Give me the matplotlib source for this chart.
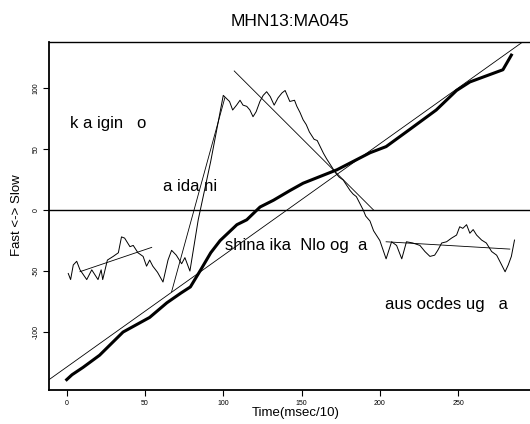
import matplotlib
matplotlib.use("Agg")
import matplotlib.pyplot as plt

plt.rcParams['font.family'] = ['Liberation Sans', 'DejaVu Sans']

# serie oscilante (tiempo, valor)
wig_t = [1, 2.5, 4.2, 6.4, 8.5, 12.8, 16, 18, 20, 22, 23, 26, 29.7, 33, 35, 37,
         40.4, 42.5, 45.5, 48.8, 51, 53, 55, 58, 61.5, 64.7, 67, 70, 73.4, 75.5,
         78.7, 84, 92, 100, 102, 104, 106, 108.5, 110.7, 112.6, 115, 117, 119,
         121, 123.4, 125.5, 127.7, 130, 132.5, 135, 137.5, 139.5, 142.5, 145.5,
         147, 149, 151, 153, 155, 158, 160, 164, 166, 168, 172, 174, 176.6, 181,
         183, 185, 189.4, 191, 193.7, 196, 200, 204, 207.5, 210.7, 214, 217, 221,
         225.6, 228.8, 232, 235, 237, 239.5, 242.6, 245.8, 249, 251, 253, 255.4,
         257.5, 259.6, 261.8, 265, 268, 271.4, 274.6, 277.8, 280, 282, 284, 286]
wig_v = [-52, -57, -45, -42, -49, -57, -49, -53, -57, -49, -57, -41, -38, -35, -22, -23,
         -30, -29, -35, -38, -46, -41, -46, -51, -59, -41, -33, -37, -44, -39,
         -50, -8, 40, 94, 91.5, 89, 82, 86, 90, 86, 85, 82, 76.5,
         80.6, 89, 94, 97, 93, 86, 92, 96, 98, 89, 90,
         85, 80, 74, 70, 64, 58, 57, 46.5, 42, 38, 30, 27, 24.6, 16,
         13, 11, 0, -5, -9, -17, -25, -40, -26, -29, -40, -26, -27,
         -29, -34, -38, -37, -33, -27, -26, -23, -20.5, -13.7, -15, -12,
         -19, -16, -20.5, -24.6, -27, -34, -37, -45, -50.6, -45, -38, -24.6]

# serie acumulada (linea gruesa)
cum_t = [0, 3.4, 10.4, 21, 36, 53, 64, 73, 79, 85.6, 92, 98, 108.7, 115, 123.5,
         132, 142.6, 151, 172.6, 193.8, 204, 219, 236, 249, 257.5, 278.6, 284]
cum_v = [-139, -135, -129, -119, -100, -88, -76, -68, -63, -49, -35, -25, -12, -8, 2.5,
         8, 16, 22, 33, 47, 52, 66, 82, 98, 105, 115, 127]

# rectas por tramos (t0, v0, t1, v1)
seg_t0 = [8.5, 67, 107, 204]
seg_v0 = [-50.5, -67, 114, -26]
seg_t1 = [54.3, 101, 196, 283]
seg_v1 = [-30.6, 92, 0, -32]

# recta global
fit_intercept = -128.7
fit_slope = 0.915

# etiquetas
lab_text = ["k a igin   o", "a ida ni", "shina ika  Nlo og  a", "aus ocdes ug   a"]
lab_t = [2.1, 61.5, 101, 203]
lab_v = [67, 15.6, -33, -81]

x_ticks = [0, 50, 100, 150, 200, 250]
y_ticks = [-100, -50, 0, 50, 100]

fig = plt.figure(figsize=(5.3, 4.24), dpi=100)
ax = fig.add_axes([49 / 530, 34 / 424, 481 / 530, 347.7 / 424])

ax.plot(wig_t, wig_v, color='black', lw=0.7)
ax.plot(cum_t, cum_v, color='black', lw=2.2)
for a, b, c, d in zip(seg_t0, seg_v0, seg_t1, seg_v1):
    ax.plot([a, c], [b, d], color='black', lw=0.6)
ax.axline((0, fit_intercept), slope=fit_slope, color='black', lw=0.6)
ax.axhline(0, color='black', lw=1.0)

for s, t, v in zip(lab_text, lab_t, lab_v):
    ax.text(t, v, s, fontsize=12, ha='left', va='baseline')

ax.set_xlim(-11.3, 295.9)
ax.set_ylim(-147.5, 137.5)
ax.set_xticks(x_ticks)
ax.set_yticks(y_ticks)
ax.set_xticklabels([str(x) for x in x_ticks], fontsize=5)
ax.set_yticklabels([str(y) for y in y_ticks], fontsize=5, rotation=90, va='center')
ax.tick_params(direction='out', length=4, width=0.8, pad=3)
ax.spines['right'].set_visible(False)
for side in ['left', 'bottom']:
    ax.spines[side].set_linewidth(1.3)
ax.spines['top'].set_linewidth(1.0)

fig.text(290 / 530, 1 - 21 / 424, "MHN13:MA045", fontsize=12.5, ha='center', va='center')
fig.text(17 / 530, 1 - 215 / 424, "Fast <-> Slow", fontsize=9.5, rotation=90,
         ha='center', va='center')
fig.text(296 / 530, 1 - 413 / 424, "Time(msec/10)", fontsize=9.5, ha='center', va='center')

fig.savefig("out.png", dpi=100)
